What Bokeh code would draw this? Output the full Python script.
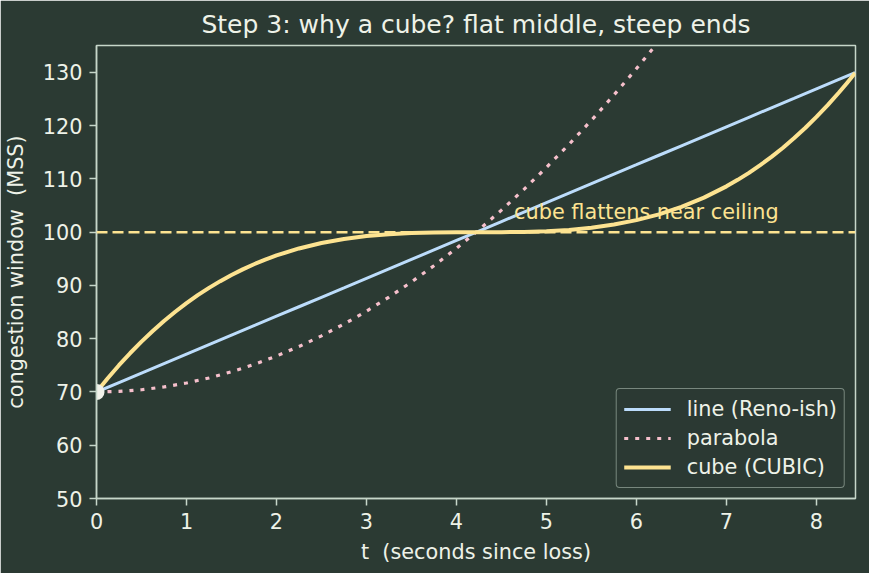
from bokeh.plotting import figure
from bokeh.models import Range1d, Span, Label, Legend, LegendItem, FixedTicker
from bokeh.embed import file_html
from bokeh.resources import INLINE

# ---- data ----
t = [0, 0.25, 0.5, 0.75, 1.0, 1.25, 1.5, 1.75, 2.0, 2.25, 2.5, 2.75, 3.0, 3.25,
     3.5, 3.75, 4.0, 4.25, 4.5, 4.75, 5.0, 5.25, 5.5, 5.75, 6.0, 6.25, 6.5,
     6.75, 7.0, 7.25, 7.5, 7.75, 8.0, 8.25, 8.43]
reno = [70.0, 71.78, 73.56, 75.34, 77.11, 78.89, 80.67, 82.45, 84.23, 86.01,
        87.79, 89.56, 91.34, 93.12, 94.90, 96.68, 98.46, 100.23, 102.01, 103.79,
        105.57, 107.35, 109.13, 110.91, 112.68, 114.46, 116.24, 118.02, 119.80,
        121.58, 123.36, 125.13, 126.91, 128.69, 129.97]
t_para = t[:27]
para = [70.0, 70.11, 70.42, 70.95, 71.69, 72.64, 73.80, 75.17, 76.75, 78.54,
        80.54, 82.76, 85.18, 87.82, 90.67, 93.72, 96.99, 100.47, 104.16, 108.06,
        112.18, 116.50, 121.03, 125.78, 130.73, 135.90, 141.28]
t_cube = [0, 0.125, 0.25, 0.375, 0.5, 0.625, 0.75, 0.875, 1.0, 1.125, 1.25,
          1.375, 1.5, 1.625, 1.75, 1.875, 2.0, 2.25, 2.5, 2.75, 3.0, 3.25, 3.5,
          3.75, 4.0, 4.25, 4.5, 4.75, 5.0, 5.25, 5.5, 5.75, 6.0, 6.25, 6.5,
          6.75, 7.0, 7.125, 7.25, 7.375, 7.5, 7.625, 7.75, 7.875, 8.0, 8.125,
          8.25, 8.34, 8.43]
cubic = [70.0, 72.59, 75.03, 77.32, 79.46, 81.46, 83.33, 85.07, 86.68, 88.18,
         89.55, 90.82, 91.98, 93.03, 93.99, 94.86, 95.64, 96.96, 97.98, 98.74,
         99.28, 99.64, 99.85, 99.96, 100.0, 100.0, 100.01, 100.06, 100.19,
         100.44, 100.84, 101.44, 102.27, 103.36, 104.76, 106.50, 108.62,
         109.84, 111.16, 112.60, 114.15, 115.83, 117.64, 119.58, 121.66,
         123.87, 126.24, 128.04, 129.91]
ceiling = 100
start_t = [0]
start_w = [70]
note_t, note_w = 4.64, 103.8
x_ticks = [0, 1, 2, 3, 4, 5, 6, 7, 8]
y_ticks = [50, 60, 70, 80, 90, 100, 110, 120, 130]

# ---- style ----
BG = "#2b3a33"
FRAME = "#c6d6c9"
TXT = "#eef2e8"
BLUE = "#bcdcfb"
PINK = "#f6c0cc"
YEL = "#fde391"
FONT = "DejaVu Sans"

p = figure(width=869, height=573, output_backend="svg", toolbar_location=None,
           x_range=Range1d(0, 8.434), y_range=Range1d(50, 135.07),
           min_border_left=96, min_border_right=14, min_border_top=45,
           min_border_bottom=75,
           background_fill_color=BG, border_fill_color=BG,
           outline_line_color=FRAME, outline_line_width=1.5)

p.title.text = "Step 3: why a cube? flat middle, steep ends"
p.title.text_font = FONT
p.title.text_font_size = "25px"
p.title.text_font_style = "normal"
p.title.text_color = TXT
p.title.align = "center"
p.title.standoff = 13

p.xgrid.visible = False
p.ygrid.visible = False

for ax in (p.xaxis[0], p.yaxis[0]):
    ax.axis_line_color = FRAME
    ax.axis_line_width = 1.5
    ax.major_tick_line_color = FRAME
    ax.major_tick_line_width = 1.5
    ax.major_tick_out = 7
    ax.major_tick_in = 0
    ax.minor_tick_line_color = None
    ax.major_label_text_font = FONT
    ax.major_label_text_font_size = "20.8px"
    ax.major_label_text_color = TXT
    ax.major_label_standoff = 7
    ax.axis_label_text_font = FONT
    ax.axis_label_text_font_size = "20.8px"
    ax.axis_label_text_color = TXT
    ax.axis_label_text_font_style = "normal"

p.xaxis.ticker = FixedTicker(ticks=x_ticks)
p.yaxis.ticker = FixedTicker(ticks=y_ticks)
p.xaxis.axis_label = "t \u00a0(seconds since loss)"
p.yaxis.axis_label = "congestion window \u00a0(MSS)"
p.xaxis.axis_label_standoff = 8
p.yaxis.axis_label_standoff = 12

p.add_layout(Span(location=ceiling, dimension="width", line_color=YEL,
                  line_width=2.5, line_dash="11 5"))

r_line = p.line(t, reno, line_color=BLUE, line_width=3)
r_para = p.line(t_para, para, line_color=PINK, line_width=3.2, line_dash="4 7")
r_cube = p.line(t_cube, cubic, line_color=YEL, line_width=4, line_join="round")
p.scatter(start_t, start_w, size=16, marker="circle", fill_color="#f2f2ea",
          line_color=None)

p.add_layout(Label(x=note_t, y=note_w, text="cube flattens near ceiling",
                   text_font=FONT, text_font_size="20.8px", text_color=YEL,
                   text_baseline="alphabetic", text_align="left"))

legend = Legend(items=[LegendItem(label="line (Reno-ish)", renderers=[r_line]),
                       LegendItem(label="parabola", renderers=[r_para]),
                       LegendItem(label="cube (CUBIC)", renderers=[r_cube])],
                location="bottom_right")
legend.label_text_font = FONT
legend.label_text_font_size = "20.8px"
legend.label_text_color = TXT
legend.background_fill_color = BG
legend.background_fill_alpha = 0.9
legend.border_line_color = FRAME
legend.border_line_width = 1.5
legend.glyph_width = 47
legend.glyph_height = 26
legend.label_height = 26
legend.label_standoff = 16
legend.spacing = 3
legend.padding = 7
legend.margin = 10
if "border_radius" in type(legend).properties():
    legend.border_radius = 4
p.add_layout(legend)

open("out.html", "w").write(file_html(p, INLINE))
